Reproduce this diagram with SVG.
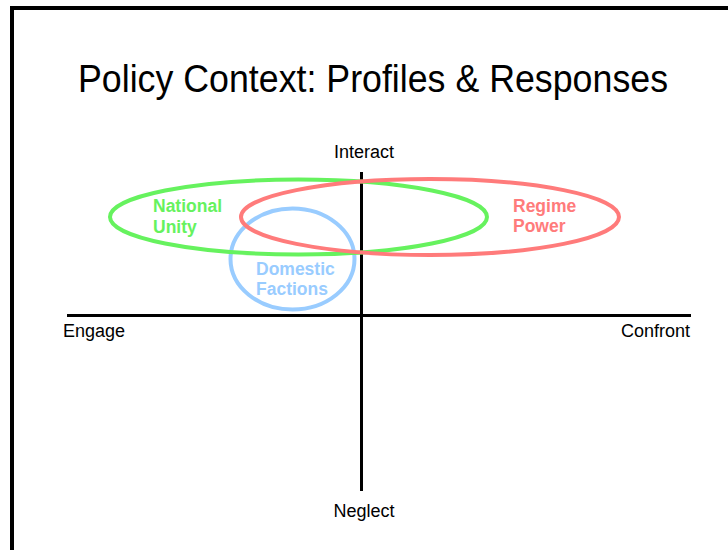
<svg xmlns="http://www.w3.org/2000/svg" width="728" height="550" viewBox="0 0 728 550">
  <style>
    .frame { fill: none; stroke: #000; stroke-width: 4; }
    .axis { stroke: #000; stroke-width: 3; fill: none; }
    .title { font-family: "Liberation Sans", Arial, sans-serif; font-size: 38px; fill: #000; }
    .axis-label { font-family: "Liberation Sans", Arial, sans-serif; font-size: 18px; fill: #000; }
    .ring { fill: none; stroke-width: 4; }
    .label { font-family: "Liberation Sans", Arial, sans-serif; font-size: 17.5px; font-weight: bold; }
    .unity { stroke: #66f25e; }
    .unity-text { fill: #66f25e; }
    .regime { stroke: #ff7b7b; }
    .regime-text { fill: #ff7b7b; }
    .factions { stroke: #99ccff; }
    .factions-text { fill: #99ccff; }
  </style>
  <rect width="728" height="550" fill="#fff"/>
  <!-- page frame: top and left edges -->
  <path class="frame" d="M12,550 V8 H728"/>

  <text class="title" x="373" y="92" text-anchor="middle" textLength="590" lengthAdjust="spacingAndGlyphs">Policy Context: Profiles &amp; Responses</text>

  <!-- axes -->
  <g id="connectors">
    <line class="axis" x1="67" y1="315.5" x2="691" y2="315.5"/>
    <line class="axis" x1="361.5" y1="172" x2="361.5" y2="491"/>
  </g>

  <g id="axis-labels">
    <text class="axis-label" x="364" y="158" text-anchor="middle">Interact</text>
    <text class="axis-label" x="364" y="517" text-anchor="middle">Neglect</text>
    <text class="axis-label" x="63" y="337">Engage</text>
    <text class="axis-label" x="690" y="337" text-anchor="end">Confront</text>
  </g>

  <g id="domestic-factions">
    <ellipse class="ring factions" cx="292.5" cy="259" rx="62" ry="50.5"/>
    <text class="label factions-text" x="256" y="275">Domestic</text>
    <text class="label factions-text" x="256" y="295">Factions</text>
  </g>

  <g id="national-unity">
    <ellipse class="ring unity" cx="298.5" cy="217" rx="188.5" ry="37.5"/>
    <text class="label unity-text" x="153" y="212">National</text>
    <text class="label unity-text" x="153" y="233">Unity</text>
  </g>

  <g id="regime-power">
    <ellipse class="ring regime" cx="430" cy="217" rx="189" ry="38"/>
    <text class="label regime-text" x="513" y="212">Regime</text>
    <text class="label regime-text" x="513" y="232">Power</text>
  </g>
</svg>
